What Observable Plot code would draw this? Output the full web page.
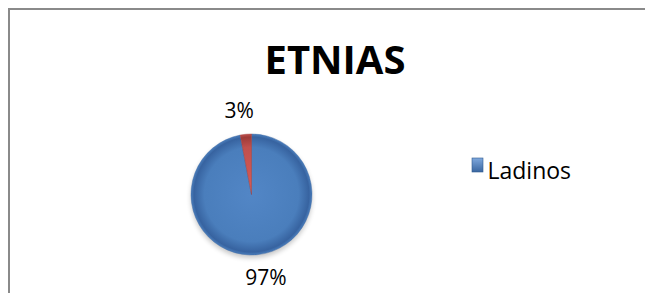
<!DOCTYPE html>
<html><head><meta charset="utf-8">
<script src="https://cdn.jsdelivr.net/npm/d3@7"></script>
<script src="https://cdn.jsdelivr.net/npm/@observablehq/plot@0.6"></script>
<style>html,body{margin:0;padding:0;background:#fff;overflow:hidden;} svg{display:block}</style>
</head><body><div id="chart"></div>
<script>
const title = "ETNIAS";
const categories = ["Ladinos", "Indígenas"];
const values = [97, 3];
const labels = ["97%", "3%"];
const legendItems = ["Ladinos"];
const colors = ["#4A7EBC", "#C0504D"];
const lightColors = ["#5286C6", "#DA5A55"];
const darkColors = ["#3763A0", "#9E3B38"];

const data = categories.map((c, i) => ({category: c, value: values[i], label: labels[i]}));
const arcs = d3.pie().sort(null).value(d => d.value)(data);
const labelK = 1.39;
const labelData = arcs.map(a => {
  const m = (a.startAngle + a.endAngle) / 2;
  return {label: a.data.label, x: Math.sin(m) * labelK, y: Math.cos(m) * labelK};
});

function pieMark(index, scales, vals, dims) {
  const cx = scales.x(0), cy = scales.y(0);
  const r = Math.abs(scales.x(1) - scales.x(0));
  const g = d3.create("svg:g");
  const defs = g.append("defs");
  const f = defs.append("filter").attr("id", "pshadow").attr("x", "-20%").attr("y", "-20%").attr("width", "140%").attr("height", "140%");
  f.append("feGaussianBlur").attr("stdDeviation", 2.5);
  arcs.forEach((a, i) => {
    const rg = defs.append("radialGradient").attr("id", "pg" + i)
      .attr("gradientUnits", "userSpaceOnUse").attr("cx", 0).attr("cy", 0).attr("r", r);
    rg.append("stop").attr("offset", "0%").attr("stop-color", lightColors[i]);
    rg.append("stop").attr("offset", "78%").attr("stop-color", colors[i]);
    rg.append("stop").attr("offset", "95%").attr("stop-color", darkColors[i]);
    rg.append("stop").attr("offset", "100%").attr("stop-color", colors[i]);
  });
  const lg = defs.append("linearGradient").attr("id", "lg0").attr("x1", 0).attr("y1", 0).attr("x2", 0).attr("y2", 1);
  lg.append("stop").attr("offset", "0%").attr("stop-color", "#7FA8DD");
  lg.append("stop").attr("offset", "100%").attr("stop-color", "#3A66A0");
  // chart border (only top and left edges fall inside the picture)
  g.append("path").attr("d", `M9,${dims.height}V9H${dims.width}`)
    .attr("fill", "none").attr("stroke", "#8a8a8a").attr("stroke-width", 2);
  g.append("ellipse").attr("cx", cx).attr("cy", cy + 3).attr("rx", r).attr("ry", r)
    .attr("fill", "#000").attr("opacity", 0.22).attr("filter", "url(#pshadow)");
  const arc = d3.arc().innerRadius(0).outerRadius(r);
  g.append("g").attr("transform", `translate(${cx},${cy})`)
    .selectAll("path").data(arcs).join("path")
    .attr("d", arc).attr("fill", (d, i) => `url(#pg${i})`)
    .attr("stroke", (d, i) => darkColors[i]).attr("stroke-width", 0.4);
  legendItems.forEach((name, i) => {
    g.append("rect").attr("x", dims.width - 173).attr("y", 158 + i * 24).attr("width", 11).attr("height", 14)
      .attr("fill", "url(#lg0)").attr("stroke", "#2F5A8F").attr("stroke-width", 0.6);
  });
  return g.node();
}

const chart = Plot.plot({
  width: 645,
  height: 293,
  margin: 0,
  x: {domain: [-1, 1], range: [191, 312], axis: null},
  y: {domain: [-1, 1], range: [255, 134], axis: null},
  style: {fontFamily: "'Open Sans', sans-serif", background: "#fff"},
  marks: [
    Plot.text([title], {frameAnchor: "top", text: d => d, dx: 12, dy: 45, fontSize: 40, fontWeight: "bold", fill: "#000"}),
    pieMark,
    Plot.text(labelData.slice(0, 1), {x: "x", y: "y", text: "label", dx: 6, fontSize: 21, fill: "#000"}),
    Plot.text(labelData.slice(1), {x: "x", y: "y", text: "label", dx: -5, fontSize: 21, fill: "#000"}),
    Plot.text(legendItems, {frameAnchor: "top-left", text: d => d, dx: 487, dy: 162, fontSize: 23, textAnchor: "start", fill: "#000"})
  ]
});
document.getElementById("chart").append(chart);
</script></body></html>
